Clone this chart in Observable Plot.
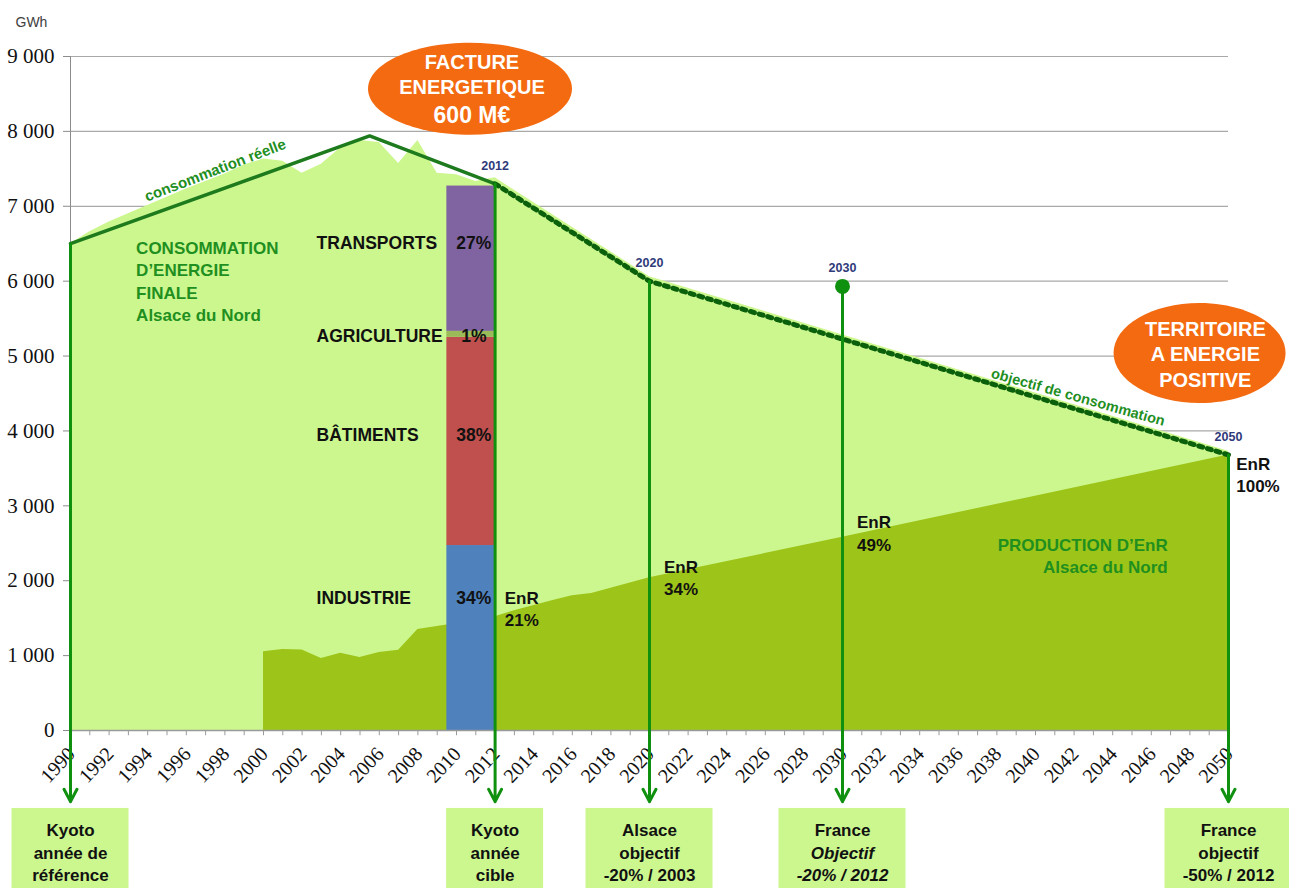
<!DOCTYPE html>
<html><head><meta charset="utf-8">
<script src="https://cdn.jsdelivr.net/npm/d3@7"></script>
<script src="https://cdn.jsdelivr.net/npm/@observablehq/plot@0.6"></script>
<style>body{margin:0;background:#fff} svg{display:block}</style>
</head><body><div id="chart"></div>
<script>
// ---- data ----
const actualYears = [1990,1991,1992,1993,1994,1995,1996,1997,1998,1999,2000,2001,2002,2003,2004,2005,2006,2007,2008,2009,2010,2011,2012];
const actualConsumption = [6500,6660,6790,6900,7010,7120,7230,7330,7430,7550,7630,7600,7440,7560,7780,7880,7850,7570,7880,7440,7420,7330,7380];
const trendYears = [1990, 2005.5, 2012];
const trendValues = [6500, 7940, 7300];
const objectiveYears = [2012, 2020, 2050];
const objectiveValues = [7300, 6000, 3680];
const objectiveAreaEdge = [7360, 6060, 3730];
const productionYears = [2000,2001,2002,2003,2004,2005,2006,2007,2008,2009,2010,2011,2012,2013,2015,2016,2017,2020,2030,2050];
const productionValues = [1050,1080,1075,960,1030,975,1040,1070,1350,1390,1430,1480,1520,1600,1735,1800,1830,2040,2580,3680];
const sectors = ["INDUSTRIE","BÂTIMENTS","AGRICULTURE","TRANSPORTS"];
const sectorValues = [2470, 2780, 80, 1940];
const sectorShares = ["34%","38%","1%","27%"];
const milestoneYears = [1990, 2012, 2020, 2030, 2050];
const milestoneValues = [6500, 7300, 6000, 5930, 3680];
const milestoneLabels = [
  ["Kyoto","année de","référence"],
  ["Kyoto","année","cible"],
  ["Alsace","objectif","-20% / 2003"],
  ["France","Objectif","-20% / 2012"],
  ["France","objectif","-50% / 2012"]
];
const milestoneItalic = [[0,0,0],[0,0,0],[0,0,0],[0,1,1],[0,0,0]];
const enrYears = [2012, 2020, 2030, 2050];
const enrShares = ["21%","34%","49%","100%"];
const yTicks = [0,1000,2000,3000,4000,5000,6000,7000,8000,9000];
const xLabelYears = [1990,1992,1994,1996,1998,2000,2002,2004,2006,2008,2010,2012,2014,2016,2018,2020,2022,2024,2026,2028,2030,2032,2034,2036,2038,2040,2042,2044,2046,2048,2050];

// ---- styles / layout ----
const W = 1289, H = 888, ML = 70, MR = 61, MT = 56, MB = 158;
const pxPerYear = (W - ML - MR) / 60;
const LIGHT = "#ccf78e", DARK = "#9dc418", LINE = "#1d7a1d", ARROW = "#10900f", TXTG = "#1f8f1f";
const sectorColors = ["#4f81bd","#c0504d","#9bbb59","#8064a2"];
const F = "Liberation Sans, Arial, sans-serif";
const SERIF = "Liberation Serif, Times New Roman, serif";

const consArea = actualYears.map((y,i)=>({year:y, value:actualConsumption[i]}))
  .concat(objectiveYears.map((y,i)=>({year:y, value:objectiveAreaEdge[i]})).filter(d=>d.year>2012));
const trend = trendYears.map((y,i)=>({year:y, value:trendValues[i]}));
const objective = objectiveYears.map((y,i)=>({year:y, value:objectiveValues[i]}));
const production = productionYears.map((y,i)=>({year:y, value:productionValues[i]}));
let acc = 0;
const bar = sectors.map((s,i)=>{const r={sector:s, y1:acc, y2:acc+sectorValues[i], color:sectorColors[i]}; acc+=sectorValues[i]; return r;});
const milestones = milestoneYears.map((y,i)=>({year:y, value:milestoneValues[i], lines:milestoneLabels[i]}));
const boxes = milestones.map(m=>{const n=d3.max(m.lines,l=>l.length); const hw=(72+5*n)/2/pxPerYear; return {x1:m.year-hw, x2:m.year+hw};});
const boxLines = milestones.flatMap((m,i)=>m.lines.map((t,j)=>({year:m.year, text:t, line:j, italic:milestoneItalic[i][j]})));

// annotation placements (data space)
const sectorLabelY = [1760, 3940, 5260, 6500];
const sectorRows = sectors.map((s,i)=>({name:s, share:sectorShares[i], y:sectorLabelY[i]}));
const enrPos = [[2012.5,1640],[2020.75,2045],[2030.75,2645],[2050.4,3430]];
const enrRows = enrYears.map((y,i)=>({x:enrPos[i][0], y:enrPos[i][1], text:"EnR\n"+enrShares[i]}));

function ellipse(rx, ry){
  const k = 0.5523;
  return {draw(c){
    c.moveTo(rx,0);
    c.bezierCurveTo(rx,k*ry,k*rx,ry,0,ry);
    c.bezierCurveTo(-k*rx,ry,-rx,k*ry,-rx,0);
    c.bezierCurveTo(-rx,-k*ry,-k*rx,-ry,0,-ry);
    c.bezierCurveTo(k*rx,-ry,rx,-k*ry,rx,0);
    c.closePath();
  }};
}
const fmt = d => d === 0 ? "0" : d3.format(",")(d).replace(",", " ");
const allYears = d3.range(1990, 2051);

const yAt = -1640; // middle line of bottom boxes
const boxTextMarks = [0,1,2].flatMap(j => [0,1].map(it => Plot.text(boxLines.filter(d=>d.line===j && d.italic===it), {
  x:"year", y:()=>yAt, text:"text", dy:(j-1)*22.5, fontSize:17, fontWeight:"bold", fontStyle: it ? "italic" : "normal",
  fontFamily:F, fill:"#111"
})));

const plot = Plot.plot({
  width: W, height: H, marginLeft: ML, marginRight: MR, marginTop: MT, marginBottom: MB,
  x: {type:"linear", domain:[1990, 2050]},
  y: {domain:[0, 9000]},
  style: {fontFamily: F, background: "#fff"},
  marks: [
    Plot.ruleY(yTicks.filter(d=>d>0), {stroke:"#a9a9a9", strokeWidth:1.2}),
    Plot.areaY(consArea, {x:"year", y:"value", fill:LIGHT}),
    Plot.areaY(production, {x:"year", y:"value", fill:DARK}),
    Plot.rect(bar, {x1:()=>2009.5, x2:()=>2012.05, y1:"y1", y2:"y2", fill:"color"}),
    Plot.ruleX([1990], {y1:0, y2:9000, stroke:"#8c8c8c"}),
    Plot.ruleY([0], {stroke:"#9a9a9a", strokeWidth:1.5}),
    Plot.ruleX(allYears, {x:d=>d, y1:0, y2:-70, stroke:"#9a9a9a"}),
    Plot.axisY(yTicks, {anchor:"left", tickSize:7, tickPadding:9, fontSize:21, fontFamily:SERIF, tickFormat:fmt, stroke:"#8c8c8c", fill:"#111"}),
    Plot.axisX(xLabelYears, {anchor:"bottom", tickSize:0, tickPadding:20, tickRotate:-47, fontSize:20, fontFamily:SERIF, tickFormat:d=>String(d), fill:"#111", dx:1}),
    Plot.line(trend, {x:"year", y:"value", stroke:LINE, strokeWidth:3.5}),
    Plot.line(objective, {x:"year", y:"value", stroke:"#0b600b", strokeWidth:5, strokeDasharray:"4 5"}),
    Plot.arrow(milestones, {x1:"year", x2:"year", y1:"value", y2:()=>-950, stroke:ARROW, strokeWidth:3, headLength:7, headAngle:55}),
    Plot.dot(milestones.filter(d=>d.year===2030), {x:"year", y:"value", r:7.5, fill:ARROW}),
    // bottom boxes
    Plot.rect(boxes, {x1:"x1", x2:"x2", y1:()=>-1041, y2:()=>-2300, fill:LIGHT}),
    ...boxTextMarks,
    // year labels
    Plot.text(milestones.filter(d=>d.year>1990), {x:"year", y:"value", text:d=>String(d.year), dy:-18, fontSize:12.5, fontWeight:"bold", fill:"#2f3a7a"}),
    // sector labels
    Plot.text(sectorRows, {x:()=>2002.75, y:"y", text:"name", textAnchor:"start", fontSize:17.5, fontWeight:"bold", fill:"#111"}),
    Plot.text(sectorRows, {x:()=>2010.9, y:"y", text:"share", fontSize:17.5, fontWeight:"bold", fill:"#111"}),
    // EnR labels
    Plot.text(enrRows, {x:"x", y:"y", text:"text", textAnchor:"start", lineHeight:1.3, fontSize:17, fontWeight:"bold", fill:"#111"}),
    // block labels
    Plot.text([{x:1993.4, y:6010, t:"CONSOMMATION\nD’ENERGIE\nFINALE\nAlsace du Nord"}], {x:"x", y:"y", text:"t", textAnchor:"start", lineHeight:1.3, fontSize:17, fontWeight:"bold", fill:TXTG}),
    Plot.text([{x:2046.85, y:2350, t:"PRODUCTION D’EnR\nAlsace du Nord"}], {x:"x", y:"y", text:"t", textAnchor:"end", lineHeight:1.3, fontSize:17, fontWeight:"bold", fill:TXTG}),
    Plot.text([{x:1997.5, y:7480, t:"consommation réelle"}], {x:"x", y:"y", text:"t", rotate:-21, fontSize:15, fontWeight:"bold", fill:TXTG}),
    Plot.text([{x:2042.2, y:4450, t:"objectif de consommation"}], {x:"x", y:"y", text:"t", rotate:15.7, fontSize:14.5, fontWeight:"bold", fill:TXTG}),
    // orange ellipses
    Plot.dot([{x:2010.7, y:8570}], {x:"x", y:"y", r:10, symbol:ellipse(102,46), fill:"#f46a10", stroke:"none"}),
    Plot.text([{x:2010.8, y:8570, t:"FACTURE\nENERGETIQUE"}], {x:"x", y:"y", text:"t", dy:-15, lineHeight:1.25, fontSize:20, fontWeight:"bold", fill:"#fff"}),
    Plot.text([{x:2010.8, y:8570, t:"600 M€"}], {x:"x", y:"y", text:"t", dy:27, fontSize:23, fontWeight:"bold", fill:"#fff"}),
    Plot.dot([{x:2048.5, y:5040}], {x:"x", y:"y", r:10, symbol:ellipse(86,50), fill:"#f46a10", stroke:"none"}),
    Plot.text([{x:2048.8, y:5040, t:"TERRITOIRE\nA ENERGIE\nPOSITIVE"}], {x:"x", y:"y", text:"t", lineHeight:1.28, fontSize:20, fontWeight:"bold", fill:"#fff"}),
    // unit
    Plot.text(["GWh"], {frameAnchor:"top-left", text:d=>d, dx:-55, dy:-34, textAnchor:"start", lineAnchor:"middle", fontSize:14, fill:"#404040"})
  ]
});
document.getElementById("chart").append(plot);
</script>
</body></html>
